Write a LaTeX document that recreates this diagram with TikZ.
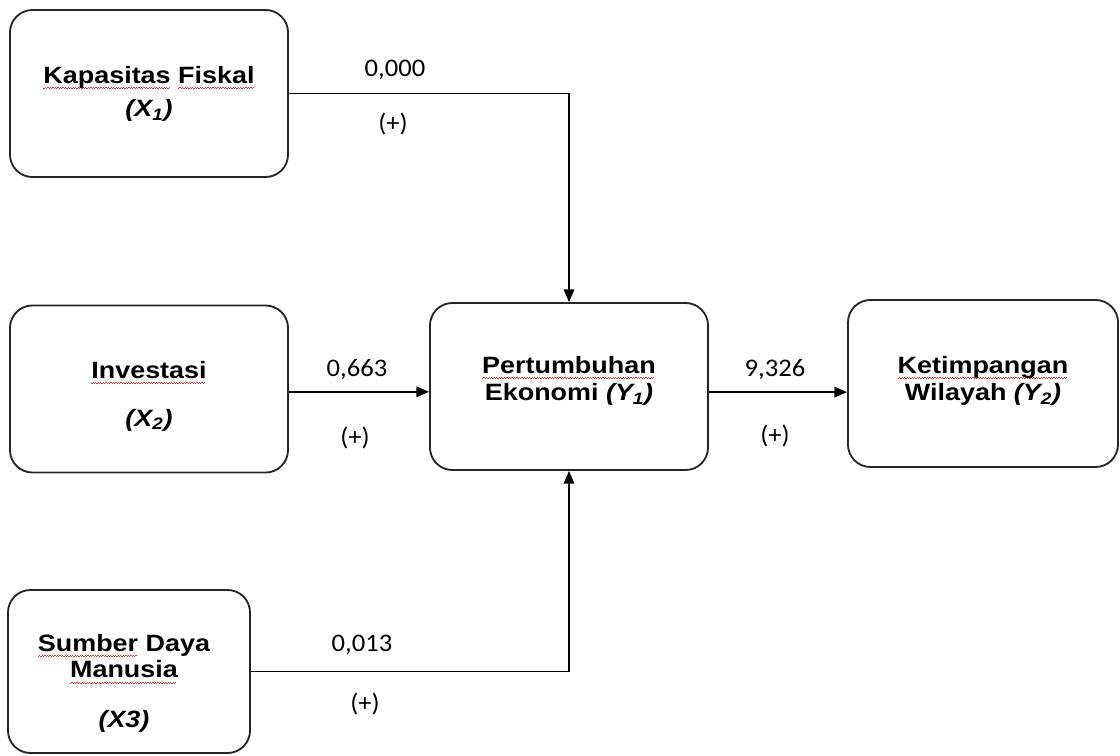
\documentclass[tikz,border=0pt]{standalone}
\usepackage{fontspec}
\setmainfont{Liberation Sans}[FakeStretch=1.14]
\newfontfamily\numfont{Carlito}[FakeStretch=1.05]
\usetikzlibrary{arrows.meta}
\definecolor{spellred}{RGB}{225,45,45}
\newcommand{\spell}[1]{\setbox0=\hbox{#1}\rlap{\hbox to \wd0{\color{spellred}\leaders\hbox{\rule[-3.9pt]{0.9pt}{0.6pt}\rule[-3.2pt]{0.9pt}{0.6pt}}\hfil}}\box0\relax}

\begin{document}
\begin{tikzpicture}[x=0.025cm, y=-0.025cm,
        varbox/.style={draw=black!85, line width=1.3pt, rounded corners=16pt,
            minimum width=6.95cm, minimum height=4.175cm},
        vartext/.style={align=center, font=\fontsize{16.8}{19}\selectfont\bfseries},
        coef/.style={font=\numfont\fontsize{18}{20}\selectfont},
        link/.style={line width=1pt, -{Triangle[length=9pt,width=7.5pt]}}]
                \useasboundingbox (0,0) rectangle (1120,756);
                \node [varbox] (x1) at (149,93.5) {};
                \node [varbox] (x2) at (149,389) {};
                \node [varbox, minimum width=6.05cm, minimum height=4.075cm] (x3) at (129,671.5) {};
                \node [varbox] (y1) at (569,386.5) {};
                \node [varbox, minimum width=6.75cm] (y2) at (983,383.5) {};
                \node [vartext] (t1) at (149,94) {\spell{Kapasitas} \spell{Fiskal}\\[5pt] \textit{(X\textsubscript{1})}};
                \node [vartext] (t2) at (149,396) {\spell{Investasi}\\[15pt] \textit{(X\textsubscript{2})}};
                \node [vartext] (t3) at (124,683) {\spell{Sumber} Daya\\ \spell{Manusia}\\[16pt] \textit{(X3)}};
                \node [vartext] (t4) at (569,381) {\spell{Pertumbuhan}\\ Ekonomi \textit{(Y\textsubscript{1})}};
                \node [vartext] (t5) at (983,381) {\spell{Ketimpangan}\\ Wilayah \textit{(Y\textsubscript{2})}};
                \draw [link] (x1) -| (y1);
                \draw [link] ([yshift=-2pt]x2.east) -- ([yshift=-2pt]x2.east -| y1.west);
                \draw [link] (x3) -| (y1);
                \draw [link] ([yshift=-4pt]y1.east) -- ([yshift=-4pt]y1.east -| y2.west);
                \node [coef] (k1) at (395,70) {0,000};
                \node [coef] (s1) at (393,124) {(+)};
                \node [coef] (k2) at (357,370) {0,663};
                \node [coef] (s2) at (355,438) {(+)};
                \node [coef] (k3) at (362,645) {0,013};
                \node [coef] (s3) at (365,704) {(+)};
                \node [coef] (k4) at (775,370) {9,326};
                \node [coef] (s4) at (775,436) {(+)};
\end{tikzpicture}
\end{document}
